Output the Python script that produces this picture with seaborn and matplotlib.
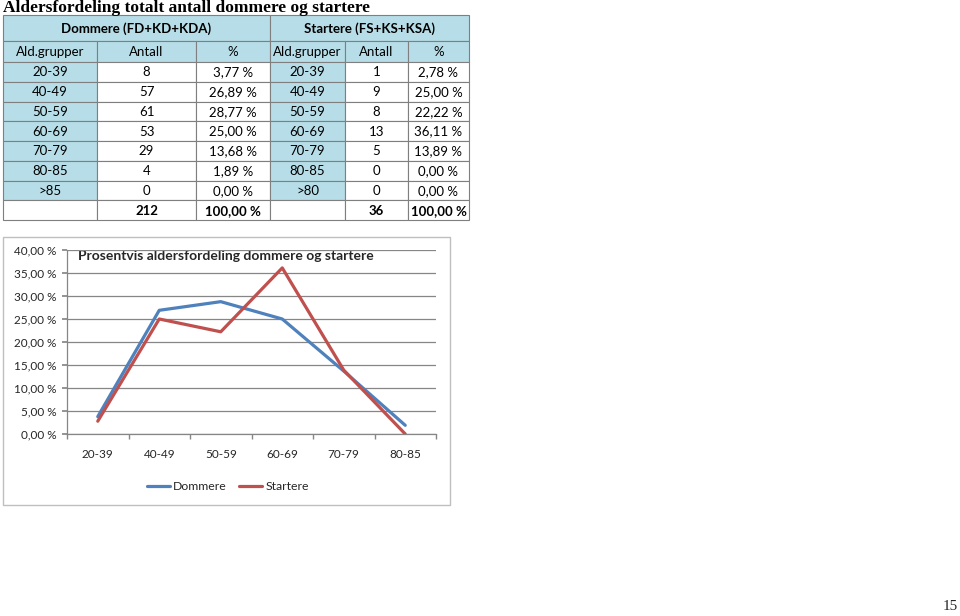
import matplotlib
matplotlib.use("Agg")
import matplotlib.pyplot as plt
from matplotlib.patches import Rectangle
from matplotlib.lines import Line2D
import seaborn as sns
import pandas as pd

# ---------------- data ----------------
age_dommere = ["20-39", "40-49", "50-59", "60-69", "70-79", "80-85", ">85"]
antall_dommere = [8, 57, 61, 53, 29, 4, 0]
pct_dommere = [3.77, 26.89, 28.77, 25.00, 13.68, 1.89, 0.00]
age_startere = ["20-39", "40-49", "50-59", "60-69", "70-79", "80-85", ">80"]
antall_startere = [1, 9, 8, 13, 5, 0, 0]
pct_startere = [2.78, 25.00, 22.22, 36.11, 13.89, 0.00, 0.00]
total_dommere = 212
total_startere = 36

chart_categories = ["20-39", "40-49", "50-59", "60-69", "70-79", "80-85"]
chart_dommere = [3.77, 26.89, 28.77, 25.00, 13.68, 1.89]
chart_startere = [2.78, 25.00, 22.22, 36.11, 13.89, 0.00]
y_ticks = [0, 5, 10, 15, 20, 25, 30, 35, 40]

title = "Aldersfordeling totalt antall dommere og startere"
chart_title = "Prosentvis aldersfordeling dommere og startere"

sns.set_theme(style="white")
plt.rcParams["font.family"] = ["Lato", "DejaVu Sans"]

W, H = 960, 616
fig = plt.figure(figsize=(W / 100, H / 100), dpi=100)
fig.patch.set_facecolor("white")

bg = fig.add_axes([0, 0, 1, 1])
bg.set_xlim(0, W)
bg.set_ylim(H, 0)
bg.axis("off")

def fmt_pct(v):
    return f"{v:.2f}".replace(".", ",") + " %"

# page title
bg.text(3, 8, title, fontsize=12.5, fontweight="bold", family="Liberation Serif",
        va="center", ha="left", color="black")
# page number
bg.text(958, 607, "15", fontsize=11, family="Liberation Serif", va="center", ha="right")

# ---------------- table ----------------
blue = "#B7DEE8"
edge = "#7F7F7F"
cols = [3, 97, 196, 270, 345, 408, 469]
row_h = 19.75
rows_y = [15, 40.5, 62]
for i in range(8):
    rows_y.append(62 + row_h * (i + 1))

def cell(x0, x1, y0, y1, text, fc="white", bold=False, size=9.5):
    bg.add_patch(Rectangle((x0, y0), x1 - x0, y1 - y0, facecolor=fc,
                           edgecolor=edge, linewidth=0.8))
    if text:
        bg.text((x0 + x1) / 2, (y0 + y1) / 2 + 0.5, text, ha="center", va="center",
                fontsize=size, fontweight="bold" if bold else "normal", color="black")

cell(cols[0], cols[3], rows_y[0], rows_y[1], "Dommere (FD+KD+KDA)", blue, True)
cell(cols[3], cols[6], rows_y[0], rows_y[1], "Startere (FS+KS+KSA)", blue, True)
hdr = ["Ald.grupper", "Antall", "%", "Ald.grupper", "Antall", "%"]
for j, h in enumerate(hdr):
    cell(cols[j], cols[j + 1], rows_y[1], rows_y[2], h, blue)

for i in range(len(age_dommere)):
    y0, y1 = rows_y[2 + i], rows_y[3 + i]
    cell(cols[0], cols[1], y0, y1, age_dommere[i], blue)
    cell(cols[1], cols[2], y0, y1, str(antall_dommere[i]))
    cell(cols[2], cols[3], y0, y1, fmt_pct(pct_dommere[i]))
    cell(cols[3], cols[4], y0, y1, age_startere[i], blue)
    cell(cols[4], cols[5], y0, y1, str(antall_startere[i]))
    cell(cols[5], cols[6], y0, y1, fmt_pct(pct_startere[i]))
y0, y1 = rows_y[9], rows_y[10]
cell(cols[0], cols[1], y0, y1, "")
cell(cols[1], cols[2], y0, y1, str(total_dommere), bold=True)
cell(cols[2], cols[3], y0, y1, fmt_pct(100), bold=True)
cell(cols[3], cols[4], y0, y1, "")
cell(cols[4], cols[5], y0, y1, str(total_startere), bold=True)
cell(cols[5], cols[6], y0, y1, fmt_pct(100), bold=True)

# chart area border
bg.add_patch(Rectangle((3, 237), 447, 268, facecolor="none", edgecolor="#BFBFBF", linewidth=1.0))

# ---------------- line chart ----------------
px_l, px_r, px_t, px_b = 67, 436, 250, 434
ax = fig.add_axes([px_l / W, 1 - px_b / H, (px_r - px_l) / W, (px_b - px_t) / H])
df = pd.DataFrame({
    "Aldersgruppe": chart_categories * 2,
    "Prosent": chart_dommere + chart_startere,
    "Serie": ["Dommere"] * len(chart_categories) + ["Startere"] * len(chart_categories),
})
palette = {"Dommere": "#4F81BD", "Startere": "#C0504D"}
sns.lineplot(data=df, x="Aldersgruppe", y="Prosent", hue="Serie", palette=palette,
             linewidth=2.3, ax=ax, legend=False, sort=False)
ax.set_xlim(-0.5, len(chart_categories) - 0.5)
ax.set_ylim(0, 40)
ax.set_yticks(y_ticks)
ax.set_yticklabels([fmt_pct(v) for v in y_ticks], fontsize=8.5)
ax.set_xticks(range(len(chart_categories)))
ax.set_xticklabels(chart_categories, fontsize=8.5)
ax.set_xlabel("")
ax.set_ylabel("")
ax.grid(axis="y", color="#868686", linewidth=0.9)
ax.grid(axis="x", visible=False)
ax.set_axisbelow(True)
for s in ["top", "right"]:
    ax.spines[s].set_visible(False)
for s in ["left", "bottom"]:
    ax.spines[s].set_color("#868686")
    ax.spines[s].set_linewidth(0.9)
ax.tick_params(axis="y", length=3.5, color="#868686", pad=4, left=True)
ax.tick_params(axis="x", length=0, pad=11)
# tick marks between categories on x
ax.set_xticks([i - 0.5 for i in range(len(chart_categories) + 1)], minor=True)
ax.tick_params(axis="x", which="minor", length=3.5, color="#868686", bottom=True)
ax.set_facecolor("none")

bg.text(78, 256, chart_title, fontsize=10, fontweight="bold", ha="left", va="center")

# legend
handles = [Line2D([0], [0], color=palette[k], linewidth=2.3) for k in ["Dommere", "Startere"]]
fig.legend(handles, ["Dommere", "Startere"], loc="center", bbox_to_anchor=(228 / W, 1 - 487 / H),
           ncol=2, frameon=False, fontsize=8.8, handlelength=1.9, handletextpad=0.25,
           columnspacing=1.0)

fig.savefig("out.png", dpi=100)
